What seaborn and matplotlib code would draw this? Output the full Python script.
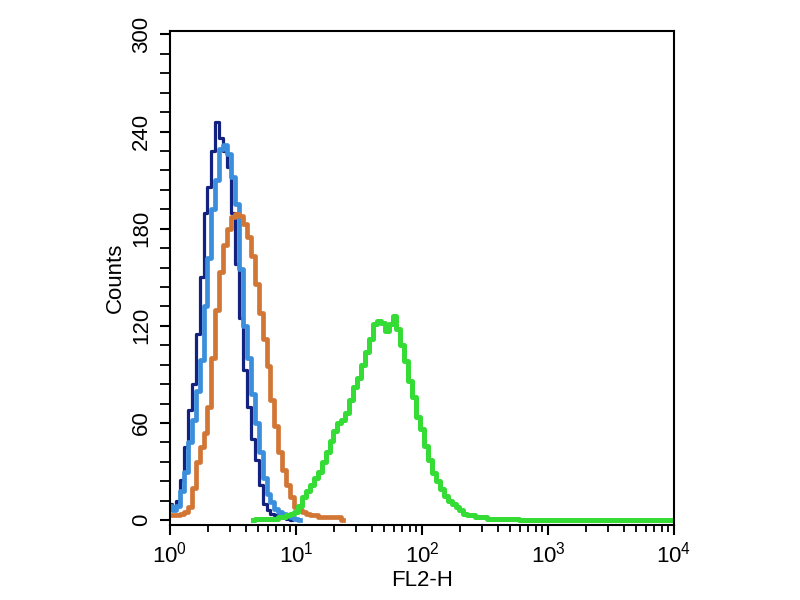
import numpy as np
import pandas as pd
import matplotlib
matplotlib.use("Agg")
import matplotlib.pyplot as plt
from matplotlib.ticker import LogLocator, MultipleLocator
import seaborn as sns

# FL2-H channels (1024 channels over 4 decades), 8-channel bins
navy_channels = list(range(0, 256, 8))
navy_counts = [10, 6, 12, 25, 45, 68, 84, 115, 150, 190, 206, 228, 246, 236, 228, 218,
               190, 158, 125, 93, 70, 50, 37, 22, 10, 6, 4, 3, 2, 2, 1, 0]

blue_channels = list(range(0, 272, 8))
blue_counts = [9, 6, 9, 18, 30, 48, 62, 80, 99, 132, 162, 192, 210, 229, 232, 226,
               212, 195, 155, 120, 100, 78, 60, 42, 26, 16, 11, 7, 5, 4, 3, 2, 1, 0]

orange_channels = list(range(0, 360, 8))
orange_counts = [3, 3, 3, 4, 5, 8, 20, 36, 45, 54, 70, 100, 130, 153, 170, 180,
                 187, 189, 188, 183, 175, 163, 146, 128, 112, 95, 74, 58, 42, 31, 22, 14,
                 8, 6, 5, 4, 3, 3, 2, 2, 2, 2, 2, 2, 0]

green_channels = list(range(168, 1024, 8))
green_counts = ([0, 1, 1, 1, 1, 1, 1, 2, 2, 3, 4, 5, 9, 14, 18, 22, 26, 30, 36, 42,
                 49, 55, 60, 62, 66, 74, 82, 88, 96, 104, 112, 121, 123, 122, 117, 121,
                 126, 118, 108, 98, 86, 76, 64, 56, 46, 37, 29, 24, 19, 15, 12, 10,
                 8, 6, 4, 3, 3, 2, 2, 2, 1, 1, 1, 1, 1, 1, 1, 1]
                + [0] * 39)

curves = [
    ("navy", navy_channels, navy_counts, "#14227f", 2.3),
    ("blue", blue_channels, blue_counts, "#3a8edb", 3.4),
    ("orange", orange_channels, orange_counts, "#d27636", 3.4),
    ("green", green_channels, green_counts, "#35dc35", 3.6),
]

plt.rcParams["font.family"] = ["Liberation Sans", "DejaVu Sans"]

fig = plt.figure(figsize=(8, 6), dpi=100)
ax = fig.add_axes([0.2125, 0.125, 0.63, 0.823])

for name, ch, cnt, color, lw in curves:
    df = pd.DataFrame({"fl2h": 10 ** (np.array(ch) / 256.0), "counts": cnt})
    sns.lineplot(data=df, x="fl2h", y="counts", ax=ax, color=color, linewidth=lw,
                 drawstyle="steps-mid", legend=False)

ax.set_xscale("log")
ax.set_xlim(1, 1e4)
ax.set_ylim(-3, 302)
ax.xaxis.set_major_locator(LogLocator(base=10, numticks=10))
ax.xaxis.set_minor_locator(LogLocator(base=10, subs=np.arange(2, 10), numticks=20))
ax.yaxis.set_major_locator(MultipleLocator(60))
ax.yaxis.set_minor_locator(MultipleLocator(12))

for s in ax.spines.values():
    s.set_linewidth(1.5)
    s.set_color("black")

ax.tick_params(axis="both", which="major", direction="out", length=7, width=1.5,
               labelsize=16, colors="black")
ax.tick_params(axis="x", which="minor", direction="out", length=5, width=1.3)
ax.tick_params(axis="y", which="minor", direction="out", length=7, width=1.3)
ax.tick_params(axis="y", which="major", labelrotation=90, pad=6)
ax.tick_params(axis="x", which="major", pad=5)
for lab in ax.get_yticklabels():
    lab.set_verticalalignment("center")

ax.set_xlabel("FL2-H", fontsize=16, labelpad=2)
ax.set_ylabel("Counts", fontsize=16, labelpad=4)

fig.savefig("out.png", dpi=100)
